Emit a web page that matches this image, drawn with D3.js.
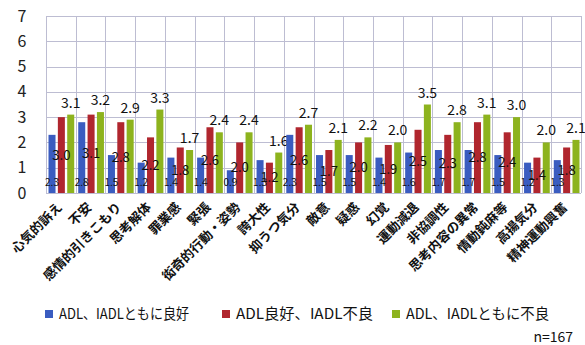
<!DOCTYPE html>
<html>
<head>
<meta charset="utf-8">
<script src="https://cdn.jsdelivr.net/npm/d3@7"></script>
<style>
  html, body { margin: 0; padding: 0; background: #fff; }
  svg { display: block; }
  text { font-family: "Noto Sans CJK JP", "Noto Sans", sans-serif; }
</style>
</head>
<body>
<svg id="chart" width="585" height="345"></svg>
<script>
// Symptom categories (x axis)
const categories = ["心気的訴え", "不安", "感情的引きこもり", "思考解体", "罪業感", "緊張",
  "衒奇的行動・姿勢", "誇大性", "抑うつ気分", "敵意", "疑惑", "幻覚", "運動減退",
  "非協調性", "思考内容の異常", "情動鈍麻等", "高揚気分", "精神運動興奮"];

// Series names
const seriesNames = ["ADL、IADLともに良好", "ADL良好、IADL不良", "ADL、IADLともに不良"];

// Mean scores per series
const goodBoth = [2.3, 2.8, 1.5, 1.2, 1.4, 1.4, 0.9, 1.3, 2.3, 1.5, 1.5, 1.4, 1.6, 1.7, 1.7, 1.5, 1.2, 1.3];
const goodAdlPoorIadl = [3.0, 3.1, 2.8, 2.2, 1.8, 2.6, 2.0, 1.2, 2.6, 1.7, 2.0, 1.9, 2.5, 2.3, 2.8, 2.4, 1.4, 1.8];
const poorBoth = [3.1, 3.2, 2.9, 3.3, 1.7, 2.4, 2.4, 1.6, 2.7, 2.1, 2.2, 2.0, 3.5, 2.8, 3.1, 3.0, 2.0, 2.1];

// Y axis ticks
const yTicks = [0, 1, 2, 3, 4, 5, 6, 7];
const sampleNote = "n=167";

const colors = ["#3a5cc0", "#b0262e", "#8db31e"];
const seriesValues = [goodBoth, goodAdlPoorIadl, poorBoth];

const svg = d3.select("#chart");
const plot = { left: 46, right: 581, top: 16, bottom: 193 };

const x0 = d3.scaleBand().domain(categories).range([plot.left, plot.right]).paddingInner(0).paddingOuter(0);
const x1 = d3.scaleBand().domain(d3.range(3)).range([2.5, x0.bandwidth() - 1.5]).paddingInner(0.25).paddingOuter(0);
const y = d3.scaleLinear().domain([0, 7]).range([plot.bottom, plot.top]);

// Gridlines
const grid = svg.append("g").attr("stroke", "#bdbdd2").attr("stroke-width", 1).attr("shape-rendering", "crispEdges");
grid.selectAll("line.h").data(yTicks).join("line")
  .attr("x1", plot.left).attr("x2", plot.right)
  .attr("y1", d => Math.round(y(d)) + 0.5).attr("y2", d => Math.round(y(d)) + 0.5);
grid.selectAll("line.v").data(categories.concat(["__end"])).join("line")
  .attr("x1", (d, i) => Math.round(plot.left + i * x0.bandwidth()) + 0.5)
  .attr("x2", (d, i) => Math.round(plot.left + i * x0.bandwidth()) + 0.5)
  .attr("y1", plot.top).attr("y2", plot.bottom);

// Y axis labels
const yAxis = d3.axisLeft(y).tickValues(yTicks).tickSize(0).tickPadding(0).tickFormat(d3.format("d"));
const yg = svg.append("g").attr("transform", "translate(28,0)").call(yAxis);
yg.select(".domain").remove();
yg.selectAll("text").attr("font-size", 16).attr("fill", "#222").attr("text-anchor", "middle").attr("dx", -6);

// Bars
const rows = categories.map((c, i) => ({ cat: c, vals: seriesValues.map(s => s[i]) }));
const groups = svg.append("g").selectAll("g").data(rows).join("g")
  .attr("transform", d => `translate(${x0(d.cat)},0)`);

groups.selectAll("rect").data(d => d.vals.map((v, k) => ({ v, k }))).join("rect")
  .attr("x", d => x1(d.k))
  .attr("width", x1.bandwidth())
  .attr("y", d => y(d.v))
  .attr("height", d => y(0) - y(d.v))
  .attr("fill", d => colors[d.k]);

// Value labels: top series above bars, middle series centred in the bar, first series at the base
groups.append("text")
  .attr("x", d => x1(2) + x1.bandwidth() / 2)
  .attr("y", d => y(d.vals[2]) - 7)
  .attr("text-anchor", "middle")
  .attr("font-size", 14).attr("fill", "#111")
  .text(d => d.vals[2].toFixed(1));

groups.append("text")
  .attr("x", d => x1(1) + x1.bandwidth() / 2)
  .attr("y", d => y(d.vals[1] / 2))
  .attr("dy", "0.35em")
  .attr("text-anchor", "middle")
  .attr("font-size", 13).attr("fill", "#111")
  .text(d => d.vals[1].toFixed(1));

groups.append("text")
  .attr("x", d => x1(0) + x1.bandwidth() / 2)
  .attr("y", y(0) - 11)
  .attr("dy", "0.35em")
  .attr("text-anchor", "middle")
  .attr("font-size", 10).attr("fill", "#111")
  .text(d => d.vals[0].toFixed(1));

// Category labels, rotated
svg.append("g").selectAll("text").data(categories).join("text")
  .attr("transform", d => `translate(${x0(d) + x0.bandwidth() / 2 + 2},${plot.bottom + 15}) rotate(-45)`)
  .attr("text-anchor", "end")
  .attr("font-size", 13).attr("font-weight", "bold").attr("fill", "#111")
  .text(d => d);

// Legend
const legendX = [45, 222, 392];
const legendW = [130, 137, 143];
const legend = svg.append("g").selectAll("g").data(seriesNames).join("g")
  .attr("transform", (d, i) => `translate(${legendX[i]},310)`);
legend.append("rect").attr("width", 8).attr("height", 8).attr("fill", (d, i) => colors[i]);
legend.append("text").attr("x", 14).attr("y", 4).attr("dy", "0.36em")
  .attr("font-size", 14.5).attr("fill", "#111")
  .attr("textLength", (d, i) => legendW[i]).attr("lengthAdjust", "spacingAndGlyphs")
  .text(d => d);

svg.append("text").attr("x", 573).attr("y", 342).attr("text-anchor", "end")
  .attr("font-size", 14).attr("fill", "#111").text(sampleNote);
</script>
</body>
</html>
